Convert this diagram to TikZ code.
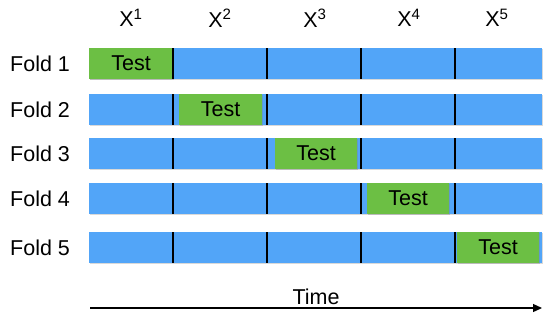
\documentclass[tikz,border=0pt]{standalone}
\usepackage{fontspec}
\setmainfont{Liberation Sans}
\usetikzlibrary{positioning,shadows,arrows.meta}
\definecolor{FoldBlue}{HTML}{52A5F8}
\definecolor{TestGreen}{HTML}{6CBF44}

\begin{document}
\begin{tikzpicture}[x=1pt,y=-1pt,
    bar/.style={fill=FoldBlue,minimum height=31pt,minimum width=453pt,
      inner sep=0pt,drop shadow={shadow xshift=0.6pt,shadow yshift=-1.4pt,opacity=0.3}},
    testbox/.style={fill=TestGreen,minimum height=31pt,inner sep=0pt,
      font=\fontsize{21.5}{25}\selectfont,
      drop shadow={shadow xshift=0.6pt,shadow yshift=-1.4pt,opacity=0.35}},
    lbl/.style={font=\fontsize{21.5}{25}\selectfont,inner sep=0pt},
    divider/.style={line width=1.8pt,black},
    timeline/.style={-{Triangle[length=9pt,width=8pt]},line width=1.3pt}
  ]
    \useasboundingbox (0,0) rectangle (554,325);
    % column headers
    \foreach \col/\cx in {1/131,2/220,3/315,4/409,5/497}
      \node[lbl] (x\col) at (\cx,18) {X\textsuperscript{\col}};
    % one bar per fold, test block in green
    \foreach \row/\top/\tl/\tr in {1/48/89/173,2/94/179/262,3/138/275/357,4/183/367/449,5/232/457/539}{
      \node[lbl,anchor=west] (fold\row) at (10,\top+16) {Fold \row};
      \node[bar] (bar\row) at (315.5,\top+15.5) {};
      \pgfmathsetmacro\tw{\tr-\tl}
      \node[testbox,minimum width=\tw pt] (test\row) at ({(\tl+\tr)/2},\top+15.5) {Test};
      \foreach \dx in {173,267,361,455}
        \draw[divider] (\dx,\top) -- (\dx,\top+31);
    }
    % time axis
    \node[lbl] (time) at (316,297) {Time};
    \coordinate (t0) at (90,308);
    \coordinate (t1) at (542,308);
    \draw[timeline] (t0) -- (t1);
  \end{tikzpicture}
\end{document}
